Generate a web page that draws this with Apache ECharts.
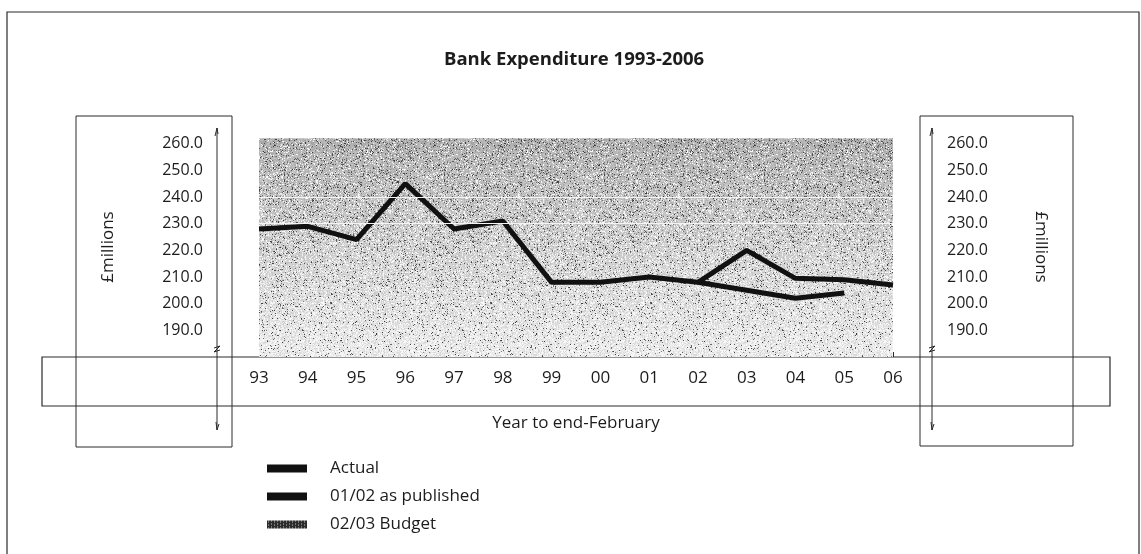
<!DOCTYPE html>
<html>
<head>
<meta charset="utf-8">
<script src="https://cdn.jsdelivr.net/npm/echarts@6/dist/echarts.min.js"></script>
<style>
  html, body { margin: 0; padding: 0; background: #fff; }
  #chart { width: 1141px; height: 554px; }
</style>
</head>
<body>
<div id="chart"></div>
<script>
// Year labels (year to end-February)
const years = ['93', '94', '95', '96', '97', '98', '99', '00', '01', '02', '03', '04', '05', '06'];

// £ millions
const actual = [228, 229, 224, 245, 228, 231, 208, 208, 210, 208, 220, 209.5, 209, 207];
const published0102 = [null, null, null, null, null, null, null, null, null, 208, 205, 202, 204, null];
const budget0203 = [262, 262, 262, 262, 262, 262, 262, 262, 262, 262, 262, 262, 262, 262];

// White reference rules inside the shaded band
const bandRules = [230, 240];

const FONT = 'Open Sans';
const INK = '#1c1c1c';

// Stippled grey fill: darker towards the top, lighter towards the bottom
function stippleTexture(top, bottom) {
  const w = 160, h = 554;
  const c = document.createElement('canvas');
  c.width = w; c.height = h;
  const ctx = c.getContext('2d');
  const img = ctx.createImageData(w, h);
  for (let y = 0; y < h; y++) {
    const t = Math.min(1, Math.max(0, (y - top) / (bottom - top)));
    for (let x = 0; x < w; x++) {
      let k = (Math.imul(x, 73856093) ^ Math.imul(y, 19349663)) >>> 0;
      k = Math.imul(k ^ (k >>> 13), 1274126177) >>> 0;
      k = (k ^ (k >>> 16)) >>> 0;
      const u = (k & 0xffff) / 65536;
      const v = ((k >>> 16) & 0xff) / 255;
      const pDark = 0.09 * (1 - t) + 0.04;
      const pLight = 0.08 + 0.25 * t;
      let g;
      if (u < pDark) g = 55 + v * 80;
      else if (u > 1 - pLight) g = 235 + v * 20;
      else g = (178 + 52 * t) + (v - 0.5) * 36;
      g = Math.max(0, Math.min(255, g));
      const i = (y * w + x) * 4;
      img.data[i] = img.data[i + 1] = img.data[i + 2] = g;
      img.data[i + 3] = 255;
    }
  }
  ctx.putImageData(img, 0, 0);
  return c;
}

function swatchTexture() {
  const c = document.createElement('canvas');
  c.width = 40; c.height = 8;
  const ctx = c.getContext('2d');
  ctx.fillStyle = '#2a2a2a';
  ctx.fillRect(0, 0, 40, 8);
  ctx.fillStyle = '#cfcfcf';
  for (let x = 1; x < 40; x += 3) {
    for (let y = (x % 2); y < 8; y += 3) ctx.fillRect(x, y, 1, 1);
  }
  return c;
}

const chart = echarts.init(document.getElementById('chart'), null, { renderer: 'canvas' });

const frame = '#2b2b2b';
function axisDecor(x) {
  return [
    { type: 'line', shape: { x1: x, y1: 128, x2: x, y2: 430 }, style: { stroke: frame, lineWidth: 1 } },
    { type: 'polyline', shape: { points: [[x - 2, 136], [x, 128], [x + 1, 134]] }, style: { stroke: frame, lineWidth: 1, fill: null } },
    { type: 'polyline', shape: { points: [[x - 1, 422], [x, 430], [x + 2, 424]] }, style: { stroke: frame, lineWidth: 1, fill: null } },
    { type: 'polyline', shape: { points: [[x - 3, 348], [x + 3, 346], [x - 3, 352], [x + 3, 350]] }, style: { stroke: frame, lineWidth: 1, fill: null } }
  ];
}

const yLabel = v => (v >= 190 && v <= 260 && v % 10 === 0) ? v.toFixed(1) : '';

chart.setOption({
  animation: false,
  backgroundColor: '#fff',
  textStyle: { fontFamily: FONT, color: INK },
  title: {
    text: 'Bank Expenditure 1993-2006',
    left: 439, top: 45,
    textStyle: { fontFamily: FONT, fontSize: 18.5, fontWeight: 'bold', color: INK }
  },
  legend: {
    orient: 'vertical',
    left: 262, top: 454,
    itemWidth: 40, itemHeight: 8, itemGap: 9,
    selectedMode: false,
    textStyle: { fontFamily: FONT, fontSize: 17, color: INK, padding: [0, 0, 0, 18], lineHeight: 19 },
    data: [
      { name: 'Actual', icon: 'rect', itemStyle: { color: '#111' } },
      { name: '01/02 as published', icon: 'rect', itemStyle: { color: '#111' } },
      { name: '02/03 Budget', icon: 'rect', itemStyle: { color: { image: swatchTexture(), repeat: 'repeat' } } }
    ]
  },
  grid: { left: 259, right: 248, top: 137, bottom: 197 },
  xAxis: {
    type: 'category',
    data: years,
    boundaryGap: false,
    axisLine: { show: false },
    axisTick: { show: true, inside: true, length: 5, alignWithLabel: true, lineStyle: { color: frame } },
    axisLabel: { fontFamily: FONT, fontSize: 17, color: INK, margin: 13 },
    name: 'Year to end-February',
    nameLocation: 'middle',
    nameGap: 58,
    nameTextStyle: { fontFamily: FONT, fontSize: 17, color: INK }
  },
  yAxis: [
    {
      type: 'value', position: 'left', offset: 42,
      min: 180, max: 262.5, interval: 10,
      axisLine: { show: false }, axisTick: { show: false }, splitLine: { show: false },
      axisLabel: { fontFamily: FONT, fontSize: 16, color: INK, margin: 14, formatter: yLabel },
      name: '£millions', nameLocation: 'middle', nameGap: 100, nameRotate: 90,
      nameTextStyle: { fontFamily: FONT, fontSize: 17, color: INK }
    },
    {
      type: 'value', position: 'right', offset: 39,
      min: 180, max: 262.5, interval: 10,
      axisLine: { show: false }, axisTick: { show: false }, splitLine: { show: false },
      axisLabel: { fontFamily: FONT, fontSize: 16, color: INK, margin: 15, formatter: yLabel },
      name: '£millions', nameLocation: 'middle', nameGap: 100, nameRotate: -90,
      nameTextStyle: { fontFamily: FONT, fontSize: 17, color: INK }
    }
  ],
  series: [
    {
      name: '02/03 Budget',
      type: 'line',
      data: budget0203,
      showSymbol: false,
      lineStyle: { width: 0 },
      itemStyle: { color: '#888' },
      areaStyle: { origin: 'start', opacity: 1, color: { image: stippleTexture(137, 357), repeat: 'repeat' } },
      markLine: {
        silent: true, symbol: 'none', label: { show: false },
        lineStyle: { color: '#f4f4f4', width: 1.2, type: 'solid' },
        data: bandRules.map(v => ({ yAxis: v }))
      },
      z: 1
    },
    {
      name: 'Actual',
      type: 'line',
      data: actual,
      showSymbol: false,
      lineStyle: { color: '#111', width: 5 },
      itemStyle: { color: '#111' },
      z: 3
    },
    {
      name: '01/02 as published',
      type: 'line',
      data: published0102,
      showSymbol: false,
      lineStyle: { color: '#111', width: 5 },
      itemStyle: { color: '#111' },
      z: 3
    }
  ],
  graphic: [
    { type: 'rect', shape: { x: 7, y: 12, width: 1132, height: 560 }, style: { stroke: frame, lineWidth: 1.2, fill: null } },
    { type: 'rect', shape: { x: 76, y: 116, width: 156, height: 331 }, style: { stroke: frame, lineWidth: 1, fill: null } },
    { type: 'rect', shape: { x: 920, y: 116, width: 153, height: 330 }, style: { stroke: frame, lineWidth: 1, fill: null } },
    { type: 'rect', shape: { x: 42, y: 357, width: 1068, height: 49 }, style: { stroke: frame, lineWidth: 1.2, fill: null } }
  ].concat(axisDecor(217), axisDecor(932))
});
</script>
</body>
</html>
